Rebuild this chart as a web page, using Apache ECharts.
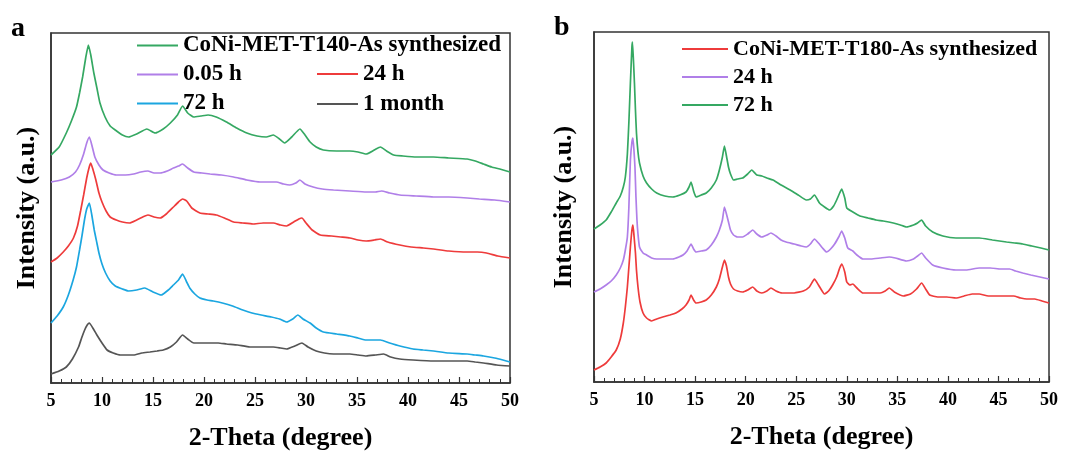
<!DOCTYPE html>
<html>
<head>
<meta charset="utf-8">
<script src="https://cdn.jsdelivr.net/npm/echarts@6/dist/echarts.min.js"></script>
<style>
html,body{margin:0;padding:0;background:#fff;}
#chart{width:1084px;height:456px;}
</style>
</head>
<body>
<div id="chart"></div>
<script>
// ---------- data (2-Theta in degrees, intensity in arbitrary units) ----------
const xTicks = [5, 10, 15, 20, 25, 30, 35, 40, 45, 50];

const aNames = ['CoNi-MET-T140-As synthesized', '0.05 h', '24 h', '72 h', '1 month'];
const bNames = ['CoNi-MET-T180-As synthesized', '24 h', '72 h'];

// panel a
const aAsSynth = [[5.0,228],[5.8,236],[6.5,250],[7.0,262],[7.5,276],[7.8,290],[8.1,306],[8.4,325],[8.66,338],[8.9,328],[9.2,310],[9.5,295],[9.8,280],[10.3,266],[10.8,257],[11.3,253],[12.0,248],[12.6,246],[13.4,249],[14.4,254],[15.2,250],[16.0,254],[16.7,260],[17.4,268],[17.9,277],[18.4,270],[19.0,266],[19.7,267],[20.4,268],[21.2,266],[22.2,261],[23.2,255],[24.2,250],[25.2,247],[26.1,246],[26.8,248],[27.4,244],[27.9,240],[28.6,246],[29.4,254],[29.9,248],[30.4,241],[31.0,236],[31.7,233],[33.0,232],[34.3,232],[35.1,231],[35.9,229],[36.7,233],[37.3,236],[37.9,232],[38.6,228],[39.5,227],[40.8,226],[42.5,226],[44.0,225],[45.8,224],[46.6,222],[47.4,219],[48.2,216],[49.0,214],[50.0,211]];
const a005h = [[5.0,201],[6.0,203],[6.8,206],[7.4,211],[7.8,218],[8.2,229],[8.5,240],[8.76,246],[9.0,238],[9.3,226],[9.7,218],[10.1,213],[10.7,210],[11.4,208],[12.3,208],[13.1,209],[13.8,211],[14.5,212],[15.1,210],[15.7,210],[16.4,212],[17.0,215],[17.5,217],[17.9,219],[18.4,215],[19.0,211],[19.8,210],[20.6,209],[21.7,208],[22.9,206],[24.2,203],[25.5,201],[26.4,201],[27.1,201],[27.8,199],[28.4,198],[29.0,200],[29.4,203],[29.9,199],[30.7,196],[31.6,194],[32.7,193],[34.3,192],[35.9,191],[36.8,191],[37.4,192],[38.2,190],[39.2,188],[40.8,187],[42.5,186],[44.0,186],[45.8,185],[47.0,184],[48.5,183],[50.0,181]];
const a24h = [[5.0,121],[5.6,125],[6.2,131],[6.7,137],[7.2,145],[7.6,157],[7.9,172],[8.2,188],[8.5,205],[8.75,216],[8.9,220],[9.1,214],[9.4,203],[9.7,190],[10.0,181],[10.4,172],[10.8,166],[11.4,163],[12.0,161],[12.7,160],[13.4,163],[14.0,166],[14.5,168],[15.1,166],[15.7,165],[16.3,169],[17.0,176],[17.5,181],[17.9,184],[18.3,182],[18.8,175],[19.6,170],[20.4,169],[21.2,168],[22.0,165],[22.9,161],[23.8,160],[24.8,159],[25.8,160],[26.8,160],[27.5,158],[28.1,157],[28.8,161],[29.3,164],[29.6,165],[30.0,160],[30.6,153],[31.4,148],[32.5,147],[33.4,146],[34.3,145],[35.1,143],[35.9,142],[36.7,143],[37.3,144],[38.0,141],[39.2,138],[40.3,136],[41.5,135],[42.5,134],[44.0,132],[45.8,131],[46.8,131],[47.7,130],[48.8,127],[50.0,125]];
const a72h = [[5.0,60],[5.6,67],[6.2,76],[6.7,88],[7.17,103],[7.5,116],[7.8,133],[8.05,148],[8.28,163],[8.5,174],[8.76,180],[9.0,168],[9.24,153],[9.5,140],[9.7,130],[10.0,119],[10.35,110],[10.8,102],[11.3,97],[12.0,94],[12.6,92],[13.4,93],[14.2,95],[15.0,91],[15.8,88],[16.5,93],[17.0,98],[17.5,103],[17.9,109],[18.3,101],[18.6,95],[19.1,89],[19.6,85],[20.3,83],[20.9,82],[21.8,80],[22.8,77],[23.8,73],[24.7,70],[25.6,68],[26.6,66],[27.4,64],[28.1,61],[28.7,64],[29.2,68],[29.7,64],[30.4,60],[31.0,55],[31.7,51],[33.0,49],[34.3,47],[35.1,45],[35.9,43],[36.7,43],[37.3,43],[38.2,40],[39.2,37],[40.5,34],[41.5,33],[42.5,32],[44.0,30],[45.8,29],[46.6,28],[47.4,27],[48.5,25],[49.3,23],[50.0,21]];
const a1month = [[5.0,9],[5.8,12],[6.5,16],[7.1,24],[7.7,36],[8.0,45],[8.3,53],[8.55,58],[8.76,60],[9.1,55],[9.5,48],[10.0,40],[10.5,33],[11.1,30],[11.8,28],[12.5,28],[13.1,28],[13.9,30],[14.7,31],[15.4,32],[16.0,33],[16.7,36],[17.3,41],[17.9,48],[18.4,44],[19.0,40],[19.8,40],[20.6,40],[21.4,40],[22.2,39],[23.3,38],[24.5,36],[25.7,36],[26.8,36],[27.5,35],[28.1,34],[28.9,37],[29.6,40],[30.2,36],[31.0,32],[31.8,30],[32.7,29],[34.3,29],[35.1,28],[35.9,27],[36.8,28],[37.6,29],[38.3,26],[39.2,24],[40.5,23],[42.5,22],[44.0,22],[45.8,22],[46.6,21],[47.4,20],[48.7,18],[50.0,17]];

// panel b
const bAsSynth = [[5.0,12],[5.6,15],[6.2,19],[6.7,25],[7.2,32],[7.6,43],[7.9,59],[8.1,75],[8.3,95],[8.45,115],[8.6,135],[8.75,152],[8.85,157],[8.95,147],[9.1,129],[9.2,112],[9.35,95],[9.55,80],[9.85,69],[10.2,64],[10.7,61],[11.2,63],[11.8,65],[12.5,67],[13.1,69],[13.7,73],[14.1,77],[14.4,82],[14.6,87],[14.85,82],[15.1,79],[15.6,80],[16.1,82],[16.6,87],[17.1,95],[17.4,103],[17.7,115],[17.9,122],[18.1,116],[18.3,105],[18.5,98],[18.8,93],[19.2,91],[19.7,90],[20.2,92],[20.7,95],[21.1,91],[21.6,89],[22.1,91],[22.5,94],[23.0,91],[23.6,89],[24.0,89],[24.8,89],[25.7,91],[26.3,95],[26.8,103],[27.2,97],[27.8,88],[28.2,91],[28.6,97],[29.0,105],[29.3,114],[29.5,118],[29.8,110],[30.0,100],[30.3,97],[30.6,98],[31.0,94],[31.6,89],[32.4,89],[33.3,89],[33.8,91],[34.2,94],[34.7,90],[35.6,86],[36.3,88],[36.9,93],[37.4,99],[37.8,93],[38.2,87],[39.0,85],[39.9,85],[40.8,84],[41.6,86],[42.4,88],[43.1,88],[44.0,86],[44.9,86],[45.8,86],[46.5,86],[47.2,84],[47.8,83],[48.6,83],[49.3,81],[50.0,79]];
const b24h = [[5.0,90],[5.6,93],[6.2,97],[6.7,101],[7.2,107],[7.6,114],[7.9,122],[8.1,132],[8.3,145],[8.45,175],[8.6,222],[8.75,240],[8.85,244],[8.95,232],[9.05,215],[9.15,185],[9.25,162],[9.35,148],[9.5,135],[9.85,129],[10.2,127],[10.7,124],[11.2,123],[12.0,123],[12.8,123],[13.4,125],[13.8,127],[14.2,131],[14.6,138],[14.85,133],[15.1,130],[15.6,131],[16.1,132],[16.6,137],[17.1,145],[17.4,152],[17.7,162],[17.9,175],[18.1,168],[18.3,160],[18.5,152],[18.8,147],[19.2,145],[19.7,145],[20.2,148],[20.7,152],[21.1,148],[21.6,145],[22.1,147],[22.5,149],[23.0,146],[23.5,142],[24.0,140],[24.8,138],[25.5,136],[26.0,135],[26.4,138],[26.8,143],[27.2,139],[27.6,134],[28.0,130],[28.4,133],[28.8,138],[29.2,145],[29.5,151],[29.8,144],[30.1,134],[30.6,131],[31.0,127],[31.6,123],[32.4,123],[33.3,124],[34.2,125],[34.8,124],[35.9,121],[36.6,123],[37.0,126],[37.4,129],[37.8,124],[38.5,117],[39.5,114],[40.8,112],[41.8,112],[43.1,114],[44.2,114],[45.2,113],[46.1,113],[46.7,111],[47.4,109],[48.2,107],[49.1,105],[50.0,103]];
const b72h = [[5.0,153],[5.6,157],[6.2,162],[6.7,170],[7.2,179],[7.6,186],[7.9,195],[8.1,205],[8.3,228],[8.45,260],[8.6,299],[8.75,335],[8.8,340],[8.9,322],[9.0,299],[9.1,272],[9.2,249],[9.35,230],[9.5,219],[9.85,206],[10.2,199],[10.7,193],[11.2,189],[12.0,186],[12.8,185],[13.5,187],[14.1,190],[14.4,195],[14.6,200],[14.85,191],[15.1,185],[15.6,187],[16.1,189],[16.6,194],[17.1,202],[17.4,212],[17.7,225],[17.9,236],[18.1,226],[18.3,215],[18.5,208],[18.8,202],[19.2,203],[19.7,204],[20.2,208],[20.6,212],[21.1,207],[21.6,206],[22.1,204],[22.7,202],[23.5,197],[24.4,192],[25.2,187],[26.0,182],[26.4,183],[26.8,187],[27.3,179],[27.8,175],[28.3,172],[28.7,176],[29.0,182],[29.3,189],[29.5,193],[29.8,184],[30.0,174],[30.6,170],[31.3,166],[32.1,164],[32.9,162],[33.6,161],[34.6,159],[35.3,157],[35.9,155],[36.6,157],[37.0,159],[37.4,162],[37.8,156],[38.5,150],[39.5,146],[40.8,144],[42.0,144],[43.1,144],[44.4,142],[45.8,140],[46.6,139],[47.4,138],[48.3,136],[49.2,134],[50.0,132]];

// ---------- chart ----------
const FONT = '"Liberation Serif", "Times New Roman", serif';
const AXC = '#333333';
const C = { green: '#35A862', purple: '#B07FE8', red: '#EE3B3B', blue: '#1BA6E0', gray: '#555555' };
const B_PREFIX = 'b:';

function xAxisFor(gridIndex) {
  return {
    type: 'value', gridIndex: gridIndex, min: xTicks[0], max: xTicks[xTicks.length - 1], interval: xTicks[1] - xTicks[0],
    name: '2-Theta (degree)', nameLocation: 'middle', nameGap: 42,
    nameTextStyle: { fontFamily: FONT, fontWeight: 'bold', fontSize: 26, color: '#000' },
    axisLine: { show: true, lineStyle: { color: AXC, width: 1.5 } },
    axisTick: { show: true, inside: true, length: 6, lineStyle: { color: AXC, width: 1.2 } },
    minorTick: { show: true, splitNumber: 5, length: 4, lineStyle: { color: AXC, width: 1 } },
    axisLabel: { margin: 9, fontFamily: FONT, fontWeight: 'bold', fontSize: 18, color: '#000' },
    splitLine: { show: false }
  };
}
function yAxisFor(gridIndex, gap) {
  return {
    type: 'value', gridIndex: gridIndex, min: 0, max: 350,
    name: 'Intensity (a.u.)', nameLocation: 'middle', nameGap: gap,
    nameTextStyle: { fontFamily: FONT, fontWeight: 'bold', fontSize: 26, color: '#000' },
    axisLine: { show: true, lineStyle: { color: AXC, width: 1.5 } },
    axisTick: { show: false }, axisLabel: { show: false }, splitLine: { show: false }
  };
}
function lineSeries(name, data, color, gi) {
  return {
    type: 'line', name: name, data: data, xAxisIndex: gi, yAxisIndex: gi,
    showSymbol: false, symbol: 'none', smooth: 0.15,
    lineStyle: { color: color, width: 1.7 }, itemStyle: { color: color },
    emphasis: { disabled: true }
  };
}

const legendText = (size) => ({ fontFamily: FONT, fontWeight: 'bold', fontSize: size, lineHeight: size, color: '#000' });

const option = {
  backgroundColor: '#ffffff',
  animation: false,
  title: [
    { text: 'a', left: 11, top: 15, padding: 0, textStyle: { fontFamily: FONT, fontWeight: 'bold', fontSize: 28, color: '#000' } },
    { text: 'b', left: 554, top: 14, padding: 0, textStyle: { fontFamily: FONT, fontWeight: 'bold', fontSize: 28, color: '#000' } }
  ],
  grid: [
    { left: 51, top: 33, width: 459, height: 350, show: true, borderColor: AXC, borderWidth: 1.5, backgroundColor: 'transparent' },
    { left: 594, top: 32, width: 455, height: 350, show: true, borderColor: AXC, borderWidth: 1.5, backgroundColor: 'transparent' }
  ],
  xAxis: [xAxisFor(0), xAxisFor(1)],
  yAxis: [yAxisFor(0, 11), yAxisFor(1, 17)],
  legend: [
    { data: [aNames[0], aNames[1], aNames[3]], orient: 'vertical', left: 137, top: 34, padding: 0,
      itemWidth: 41, itemHeight: 2, itemGap: 6, icon: 'rect', selectedMode: false, textStyle: legendText(23) },
    { data: [aNames[2], aNames[4]], orient: 'vertical', left: 317, top: 62.5, padding: 0,
      itemWidth: 41, itemHeight: 2, itemGap: 7, icon: 'rect', selectedMode: false, textStyle: legendText(23) },
    { data: [bNames[0], B_PREFIX + bNames[1], B_PREFIX + bNames[2]], orient: 'vertical', left: 682, top: 38, padding: 0,
      itemWidth: 46, itemHeight: 2, itemGap: 6, icon: 'rect', selectedMode: false, textStyle: legendText(22),
      formatter: (n) => n.indexOf(B_PREFIX) === 0 ? n.slice(B_PREFIX.length) : n }
  ],
  series: [
    lineSeries(aNames[4], a1month, C.gray, 0),
    lineSeries(aNames[3], a72h, C.blue, 0),
    lineSeries(aNames[2], a24h, C.red, 0),
    lineSeries(aNames[1], a005h, C.purple, 0),
    lineSeries(aNames[0], aAsSynth, C.green, 0),
    lineSeries(bNames[0], bAsSynth, C.red, 1),
    lineSeries(B_PREFIX + bNames[1], b24h, C.purple, 1),
    lineSeries(B_PREFIX + bNames[2], b72h, C.green, 1)
  ]
};

const chart = echarts.init(document.getElementById('chart'), null, { renderer: 'canvas' });
chart.setOption(option);
</script>
</body>
</html>
